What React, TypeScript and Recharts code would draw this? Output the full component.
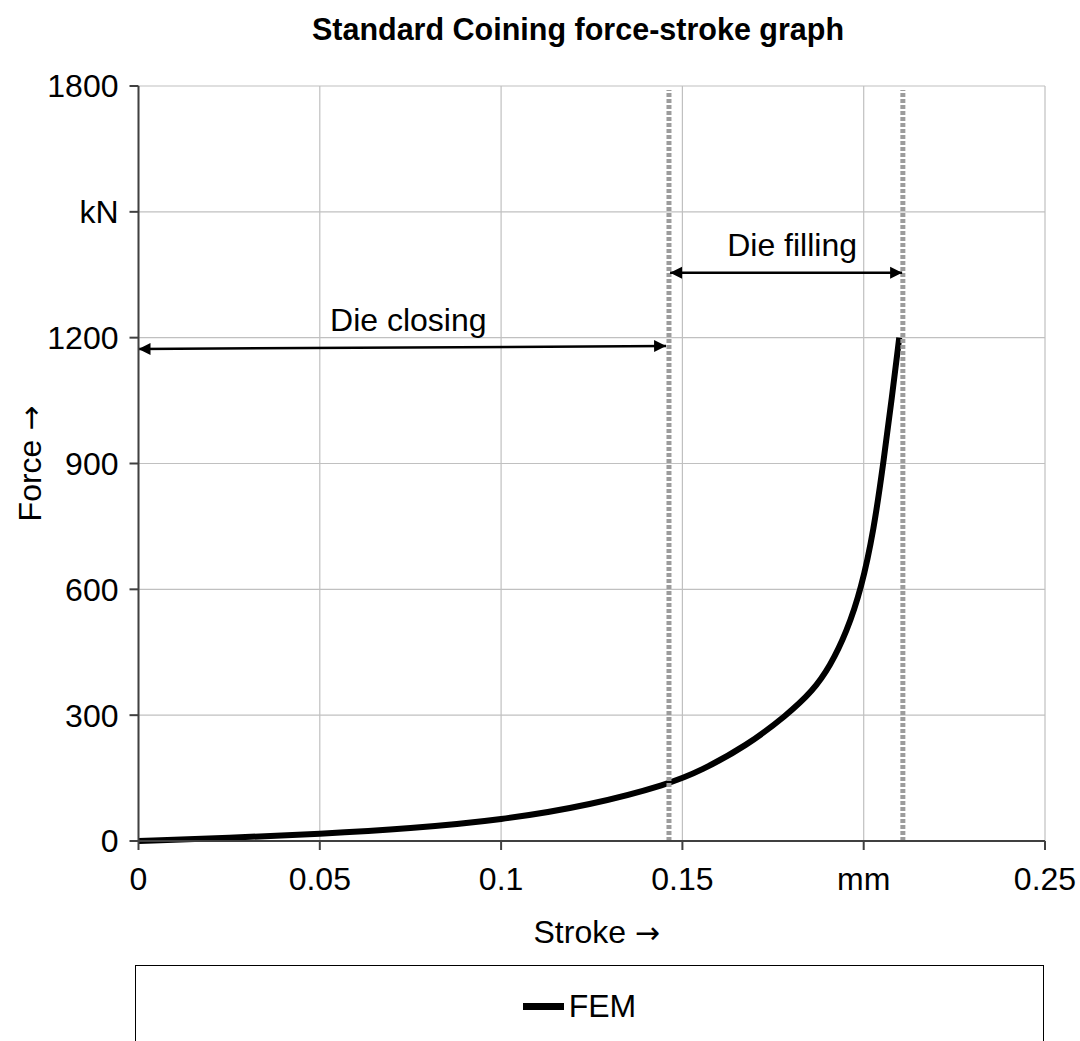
import {
  LineChart,
  Line,
  XAxis,
  YAxis,
  CartesianGrid,
  ReferenceLine,
  Legend,
} from 'recharts'

// stroke in mm, force in kN
const strokeMm = [0, 0.025, 0.05, 0.075, 0.1, 0.125, 0.1463, 0.155, 0.1677, 0.1788, 0.186, 0.1907, 0.1953, 0.1993, 0.2028, 0.2054, 0.2078, 0.2098]
const forceKn = [0, 7, 17, 30, 50, 86, 136, 167, 227, 300, 358, 416, 498, 600, 742, 900, 1059, 1200]

const xTicks = [0, 0.05, 0.1, 0.15, 0.2, 0.25]
const yTicks = [0, 300, 600, 900, 1200, 1500, 1800]

// phase boundaries (mm)
const phaseBounds = [0.1463, 0.2108]
const closingArrow = { x1: 0, y1: 1173, x2: 0.1455, y2: 1180, label: 'Die closing' }
const fillingArrow = { x1: 0.1466, y1: 1355, x2: 0.2106, y2: 1355, label: 'Die filling' }

const FONT = '"Liberation Sans", Arial, sans-serif'
const FS = 32

const data = strokeMm.map((s, i) => ({ stroke: s, force: forceKn[i] }))

function arrowShape(label: string, both: boolean) {
  return (props: any) => {
    const { x1, y1, x2, y2 } = props
    const ang = Math.atan2(y2 - y1, x2 - x1)
    const L = 12
    const W = 6
    const head = (x: number, y: number, a: number) => {
      const bx = x - L * Math.cos(a)
      const by = y - L * Math.sin(a)
      const px = -Math.sin(a) * W
      const py = Math.cos(a) * W
      return `${x},${y} ${bx + px},${by + py} ${bx - px},${by - py}`
    }
    return (
      <g>
        <line x1={x1} y1={y1} x2={x2} y2={y2} stroke="#000" strokeWidth={2.5} />
        <polygon points={head(x2, y2, ang)} fill="#000" />
        {both && <polygon points={head(x1, y1, ang + Math.PI)} fill="#000" />}
        <text
          x={(x1 + x2) / 2 + 6}
          y={(y1 + y2) / 2 - 28}
          textAnchor="middle"
          dominantBaseline="central"
          fontSize={FS}
          fontFamily={FONT}
          fill="#000"
        >
          {label}
        </text>
      </g>
    )
  }
}

const dottedShape = (props: any) => (
  <line
    x1={props.x1}
    y1={props.y1}
    x2={props.x2}
    y2={props.y2 + 4}
    stroke="#9c9c9c"
    strokeWidth={5}
    strokeDasharray="4 2"
  />
)

// axis title with a wider arrow glyph
function axisTitle(text: string, vertical: boolean) {
  return (props: any) => {
    const vb = props.viewBox
    const x = vertical ? 30 : vb.x + vb.width / 2 + 5
    const y = vertical ? vb.y + vb.height / 2 : 932
    return (
      <text
        x={x}
        y={y}
        textAnchor="middle"
        dominantBaseline="central"
        fontSize={FS}
        fontFamily={FONT}
        fill="#000"
        transform={vertical ? `rotate(-90 ${x} ${y})` : undefined}
      >
        {text}{' '}
        <tspan fontFamily='"DejaVu Sans", sans-serif' fontSize={FS - 2}>→</tspan>
      </text>
    )
  }
}

const renderLegend = () => (
  <div
    style={{
      display: 'flex',
      alignItems: 'center',
      justifyContent: 'center',
      height: 80,
      paddingRight: 20,
      boxSizing: 'border-box',
      fontFamily: FONT,
      fontSize: FS,
      color: '#000',
    }}
  >
    <span style={{ display: 'inline-block', width: 41, height: 7, background: '#000', marginRight: 5 }} />
    <span>FEM</span>
  </div>
)

export default function App() {
  return (
    <div style={{ position: 'absolute', left: 0, top: 0, width: 1080, height: 1041, overflow: 'hidden', background: '#fff' }}>
      <div
        style={{
          position: 'absolute',
          left: 0,
          top: 12,
          width: 1156,
          textAlign: 'center',
          fontFamily: FONT,
          fontWeight: 'bold',
          fontSize: 30.5,
          color: '#000',
        }}
      >
        Standard Coining force-stroke graph
      </div>
      <LineChart
        width={1080}
        height={1041}
        data={data}
        margin={{ top: 86, right: 35, left: 28.5, bottom: 140 }}
      >
        <CartesianGrid stroke="#c0c0c0" strokeWidth={1.2} />
        <XAxis
          type="number"
          dataKey="stroke"
          domain={[0, 0.25]}
          ticks={xTicks}
          height={60}
          tickSize={9}
          tickMargin={17}
          stroke="#404040"
          strokeWidth={2}
          tick={{ fill: '#000', fontSize: FS, fontFamily: FONT }}
          tickFormatter={(v: number) => (v === 0.2 ? 'mm' : String(v))}
          label={{ content: axisTitle('Stroke', false) }}
        />
        <YAxis
          type="number"
          domain={[0, 1800]}
          ticks={yTicks}
          width={110}
          tickSize={9}
          tickMargin={11}
          stroke="#404040"
          strokeWidth={2}
          tick={{ fill: '#000', fontSize: FS, fontFamily: FONT }}
          tickFormatter={(v: number) => (v === 1500 ? 'kN' : String(v))}
          label={{ content: axisTitle('Force', true) }}
        />
        <Line
          type="basis"
          dataKey="force"
          name="FEM"
          stroke="#000"
          strokeWidth={6}
          dot={false}
          isAnimationActive={false}
        />
        {phaseBounds.map((x) => (
          <ReferenceLine key={x} x={x} shape={dottedShape} />
        ))}
        <ReferenceLine
          segment={[
            { x: closingArrow.x1, y: closingArrow.y1 },
            { x: closingArrow.x2, y: closingArrow.y2 },
          ]}
          shape={arrowShape(closingArrow.label, true)}
        />
        <ReferenceLine
          segment={[
            { x: fillingArrow.x1, y: fillingArrow.y1 },
            { x: fillingArrow.x2, y: fillingArrow.y2 },
          ]}
          shape={arrowShape(fillingArrow.label, true)}
        />
        <Legend
          layout="horizontal"
          verticalAlign="middle"
          align="center"
          content={renderLegend}
          wrapperStyle={{
            left: 135,
            top: 965,
            width: 909,
            height: 100,
            border: '1.5px solid #000',
            boxSizing: 'border-box',
            background: '#fff',
          }}
        />
      </LineChart>
    </div>
  )
}
